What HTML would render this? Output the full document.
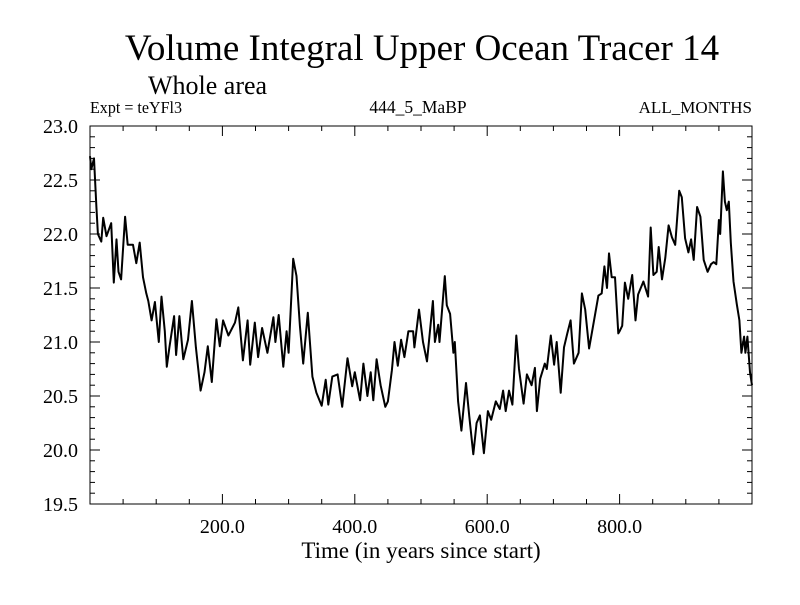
<!DOCTYPE html>
<html><head><meta charset="utf-8"><style>
body{margin:0;background:#fff}
svg text{font-family:"Liberation Serif",serif;fill:#000}
</style></head><body>
<svg id="chart" width="800" height="600" xmlns="http://www.w3.org/2000/svg">
<rect width="800" height="600" fill="#fff"/>
<text x="422" y="60" font-size="37" text-anchor="middle">Volume Integral Upper Ocean Tracer 14</text>
<text x="148" y="94" font-size="26">Whole area</text>
<text x="90" y="113" font-size="17" textLength="92" lengthAdjust="spacingAndGlyphs">Expt = teYFl3</text>
<text x="418" y="113" font-size="17.5" text-anchor="middle">444_5_MaBP</text>
<text x="752" y="113" font-size="17" text-anchor="end">ALL_MONTHS</text>
<text x="421" y="558" font-size="23" text-anchor="middle">Time (in years since start)</text>
<g id="axes"></g>
<path id="series" fill="none" stroke="#000" stroke-width="2" stroke-linejoin="round"/>
<rect x="90" y="126" width="662" height="378" fill="none" stroke="#000" stroke-width="1"/>
</svg>
<script>
const years=[0,2,6,9.6,12,17,20,25,32,36,40,43,47,53,57,65,70,75,80,85,88,93,98,104,108,113,116,120,127,130,135,141,148,154,160,167,173,178,184,191,196,201,209,219,224,231,238,242,249,
254,260,268,277,280,285,292,297,300,307,312,317,322,329,336,342,350,356,360,366,374,381,389,396,400,408,413,419,424,428,433,439,446,450,456,460,465,470,475,481,488,490,497,
503,509,518,521,526,528,536,539,544,549,551,556,561,568,573,579,584,589,595,601,606,613,619,624,628,633,638,644,648,655,660,667,672,675,680,687,690,696,701,705,711,716,721,726,731,738,743,748,
754,760,768,773,777,781,784,788,793,798,800,804,808,813,819,824,828,836,843,847,851,856,859,864,869,874,879,884,890,894,899,904,908,912,917,922,927,933,938,942,946,950,952,956,959,962,965,968,972,977,981,984,988,990,993,997,1000];
const values=[22.72,22.6,22.7,22.25,22.0,21.93,22.15,21.98,22.1,21.55,21.95,21.65,21.58,22.16,21.9,21.9,21.73,21.92,21.6,21.45,21.38,21.2,21.37,21.0,21.42,21.1,20.77,20.95,21.24,20.88,21.24,20.84,21.02,21.38,20.95,20.55,20.72,20.96,20.63,21.21,20.96,21.2,21.06,21.18,21.32,20.83,21.2,20.79,21.18,
20.86,21.13,20.9,21.23,21.0,21.25,20.77,21.1,20.9,21.77,21.61,21.15,20.8,21.27,20.68,20.53,20.41,20.65,20.42,20.68,20.7,20.4,20.85,20.59,20.72,20.46,20.8,20.5,20.72,20.46,20.84,20.6,20.4,20.45,20.74,21.0,20.78,21.02,20.86,21.1,21.1,20.95,21.3,
21.0,20.82,21.38,21.0,21.16,21.0,21.61,21.34,21.26,20.9,21.0,20.45,20.18,20.62,20.31,19.96,20.25,20.32,19.97,20.36,20.28,20.45,20.38,20.55,20.36,20.55,20.42,21.06,20.75,20.43,20.7,20.6,20.76,20.36,20.66,20.8,20.75,21.06,20.79,21.0,20.53,20.95,21.08,21.2,20.8,20.9,21.45,21.3,
20.94,21.15,21.43,21.45,21.7,21.5,21.82,21.6,21.6,21.08,21.1,21.15,21.55,21.4,21.62,21.2,21.44,21.56,21.42,22.06,21.62,21.65,21.88,21.58,21.78,22.08,21.97,21.9,22.4,22.34,21.96,21.83,21.95,21.76,22.25,22.16,21.76,21.65,21.72,21.74,21.72,22.13,22.0,22.58,22.3,22.22,22.3,21.92,21.56,21.35,21.2,20.9,21.05,20.9,21.05,20.72,20.6,20.58];
const xTickLabels=["200.0","400.0","600.0","800.0"];
const xTickValues=[200,400,600,800];
const yTickLabels=["19.5","20.0","20.5","21.0","21.5","22.0","22.5","23.0"];
const yTickValues=[19.5,20,20.5,21,21.5,22,22.5,23];
const X0=90,X1=752,Y0=504,Y1=126,xmin=0,xmax=1000,ymin=19.5,ymax=23;
function sx(v){return X0+(v-xmin)/(xmax-xmin)*(X1-X0);}
function sy(v){return Y0-(v-ymin)/(ymax-ymin)*(Y0-Y1);}
const NS="http://www.w3.org/2000/svg";
const g=document.getElementById('axes');
function line(x1,y1,x2,y2,name){const l=document.createElementNS(NS,'line');l.setAttribute('x1',x1);l.setAttribute('y1',y1);l.setAttribute('x2',x2);l.setAttribute('y2',y2);l.setAttribute('stroke','#000');l.setAttribute('stroke-width','1');


g.appendChild(l);}
function text(x,y,s,anchor,name){const t=document.createElementNS(NS,'text');t.setAttribute('x',x);t.setAttribute('y',y);t.setAttribute('font-size','20');t.setAttribute('text-anchor',anchor);t.textContent=s;


g.appendChild(t);}
for(let v=50;v<xmax;v+=50){const major=v%200===0;const len=major?10:5;const x=sx(v);line(x,Y0,x,Y0-len,'x-tick');line(x,Y1,x,Y1+len,'x-tick-top');}
for(let i=1;i<35;i++){const v=ymin+i*0.1;const major=i%5===0;const len=major?10:5;const y=sy(v);line(X0,y,X0+len,y,'y-tick');line(X1,y,X1-len,y,'y-tick-right');}
xTickValues.forEach((v,i)=>text(sx(v),Y0+29,xTickLabels[i],'middle','x-tick-label'));
yTickValues.forEach((v,i)=>text(X0-12,sy(v)+7,yTickLabels[i],'end','y-tick-label'));
document.getElementById('series').setAttribute('d',years.map((yr,i)=>(i?'L':'M')+sx(yr).toFixed(1)+','+sy(values[i]).toFixed(1)).join(''));
</script>
</body></html>
